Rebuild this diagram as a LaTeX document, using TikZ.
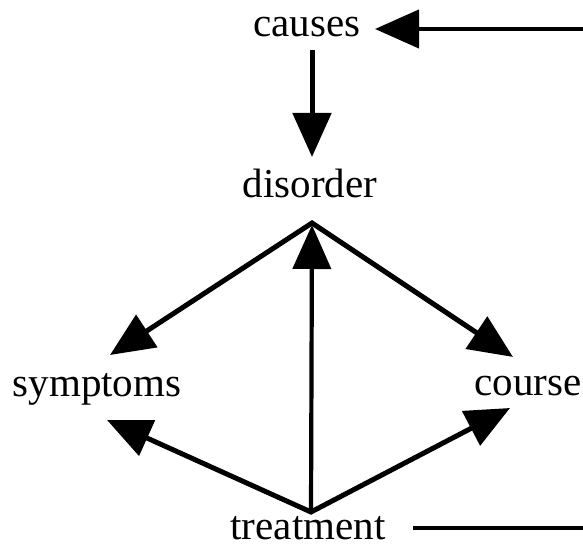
\documentclass[tikz,border=0pt]{standalone}
\usepackage{fontspec}
\setmainfont{Liberation Serif}
\usetikzlibrary{arrows.meta}
\begin{document}
\begin{tikzpicture}[x=1pt,y=-1pt,
  lbl/.style={inner sep=0pt, anchor=base, font=\fontsize{41}{48}\selectfont},
  tip/.tip={Triangle[length=44pt,width=38pt]},
  conn/.style={line width=5pt, line join=miter},
  plain/.style={line width=4.2pt}]
\useasboundingbox (0,0) rectangle (583,548);
\node[lbl] (causes) at (307,37) {causes};
\node[lbl] (disorder) at (310,197) {disorder};
\node[lbl] (symptoms) at (97,396) {symptoms};
\node[lbl] (course) at (528,395) {course};
\node[lbl] (treatment) at (308,539) {treatment};
\coordinate (causesOut) at (312,50);
\coordinate (disorderIn) at (312,157);
\coordinate (rightTop) at (583,29);
\coordinate (causesIn) at (375,29);
\coordinate (apexTop) at (312,223);
\coordinate (apexTip) at (312,225);
\coordinate (apexBot) at (311,512);
\coordinate (symTop) at (110,355);
\coordinate (courseTop) at (513,357);
\coordinate (symBot) at (107,420);
\coordinate (courseBot) at (510,408);
\coordinate (treatOut) at (413,528);
\coordinate (rightBot) at (583,528);
\draw[conn,-tip] (causesOut) -- (disorderIn);
\draw[plain,-tip] (rightTop) -- (causesIn);
\draw[conn,tip-tip] (symTop) -- (apexTop) -- (courseTop);
\draw[conn,tip-tip] (symBot) -- (apexBot) -- (courseBot);
\draw[plain,-tip] (apexBot) -- (apexTip);
\draw[plain] (treatOut) -- (rightBot);
\end{tikzpicture}
\end{document}
